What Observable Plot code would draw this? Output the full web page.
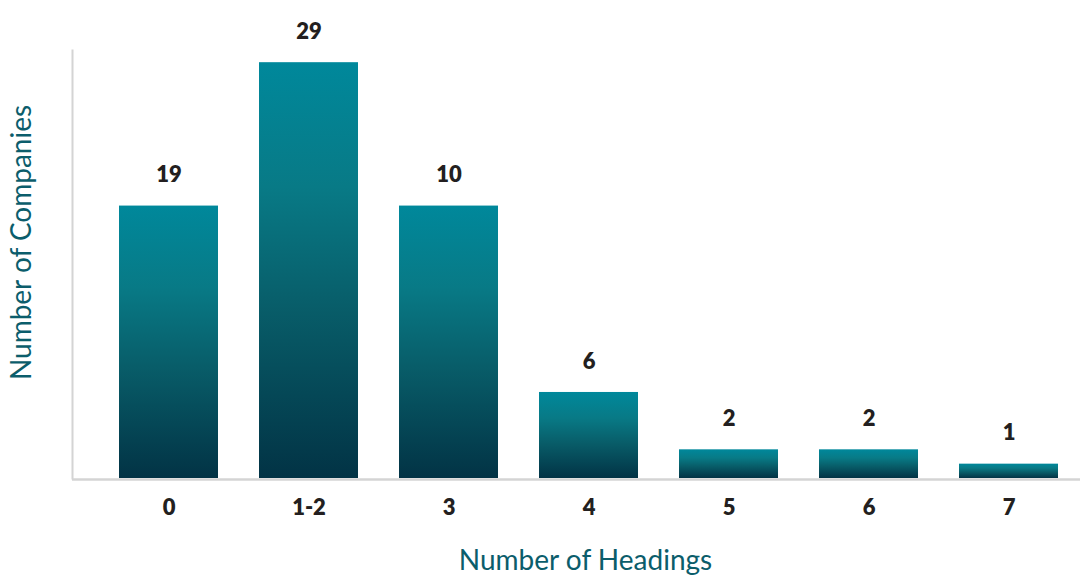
<!DOCTYPE html>
<html>
<head>
<meta charset="utf-8">
<script src="https://cdn.jsdelivr.net/npm/d3@7"></script>
<script src="https://cdn.jsdelivr.net/npm/@observablehq/plot@0.6"></script>
<style>
  html, body { margin: 0; padding: 0; background: #ffffff; }
  #chart { width: 1080px; height: 575px; overflow: hidden; }
</style>
</head>
<body>
<div id="chart"></div>
<script>
// Categories (number of headings)
const categories = ["0", "1-2", "3", "4", "5", "6", "7"];
// Bar heights as drawn in the reference
const barValues = [19, 29, 19, 6, 2, 2, 1];
// Value labels as printed above the bars in the reference
const labelTexts = ["19", "29", "10", "6", "2", "2", "1"];

const xTitle = "Number of Headings";
const yTitle = "Number of Companies";

const rows = categories.map((c, i) => ({cat: c, value: barValues[i], label: labelTexts[i]}));

const font = "Lato, 'Open Sans', sans-serif";

const plot = Plot.plot({
  width: 1080,
  height: 575,
  marginLeft: 72,
  marginRight: 0,
  marginTop: 50,
  marginBottom: 97,
  style: {fontFamily: font, background: "#ffffff", overflow: "visible"},
  x: {domain: categories, paddingInner: 0.293, paddingOuter: 0.2465, align: 0.68, label: null},
  y: {domain: [0, 29.85], axis: null},
  marks: [
    Plot.barY(rows, {x: "cat", y: "value", fill: "url(#barGrad)"}),
    Plot.frame({anchor: "left", stroke: "#d4d4d4", strokeWidth: 2}),
    Plot.ruleY([0], {stroke: "#d4d4d4", strokeWidth: 2.5, dy: 1}),
    Plot.axisX({tickSize: 0, tickPadding: 21, fontSize: 22, fontWeight: 800, fill: "#231f20", label: null}),
    Plot.text(rows, {x: "cat", y: "value", text: "label", dy: -31, lineAnchor: "middle",
      fontSize: 22, fontWeight: 800, fill: "#231f20"}),
    Plot.text([xTitle], {frameAnchor: "bottom", textAnchor: "middle", dx: 9, dy: 83, lineAnchor: "middle",
      fontSize: 28, fill: "#0b5d6b"}),
    Plot.text([yTitle], {frameAnchor: "left", textAnchor: "middle", rotate: -90, dx: -50, dy: -22, lineAnchor: "middle",
      fontSize: 28, fill: "#0b5d6b"})
  ]
});

// gradient definition for the bars
const svg = d3.select(plot);
const defs = svg.insert("defs", ":first-child");
const grad = defs.append("linearGradient").attr("id", "barGrad")
  .attr("x1", 0).attr("y1", 0).attr("x2", 0).attr("y2", 1);
[["0%", "#00889b"], ["30%", "#087a86"], ["60%", "#085c68"], ["100%", "#023345"]]
  .forEach(([o, c]) => grad.append("stop").attr("offset", o).attr("stop-color", c));

document.getElementById("chart").appendChild(plot);
</script>
</body>
</html>
